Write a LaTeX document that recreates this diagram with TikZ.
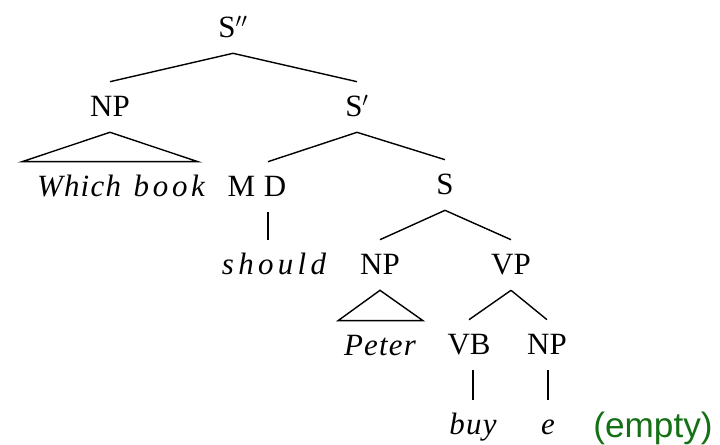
\documentclass[tikz,border=0pt]{standalone}
\usepackage{fontspec}
\setmainfont{Liberation Serif}
\newfontfamily\notefont{Liberation Sans}
\usetikzlibrary{calc}
\definecolor{notegreen}{RGB}{20,112,20}
\tikzset{
	cat/.style={font=\fontsize{22}{26}\selectfont,inner sep=0pt,text height=14pt,text depth=0pt,outer ysep=11pt},
	word/.style={cat,font=\fontsize{22}{26}\selectfont\itshape\addfontfeatures{LetterSpace=4}},
	branch/.style={line width=1pt}
}
\begin{document}
\begin{tikzpicture}[x=0.025cm,y=-0.025cm]
		\useasboundingbox(0,0)rectangle(720,445);
		% categories
		\node[cat](s2)at(233,28){S$''$};
		\node[cat](np1)at(110,107){NP};
		\node[cat](s1)at(357,107){S$'$};
		\node[cat](md)at(257,187){M\hspace{0.28em}D};
		\node[cat](s)at(445,185){S};
		\node[cat](np2)at(380,265){NP};
		\node[cat](vp)at(511,265){VP};
		\node[cat](vb)at(469,345){VB};
		\node[cat](np3)at(547,345){NP};
		
		% words
		\node[word](which)at(121,187){Which\hspace{9pt}\addfontfeatures{LetterSpace=12}book};
		\node[word,font=\fontsize{22}{26}\selectfont\itshape\addfontfeatures{LetterSpace=14}](should)at(274,265){should};
		\node[word](peter)at(380,346){Peter};
		\node[word](buy)at(473,425){buy};
		\node[word](e)at(548,425){e};
		\node[anchor=base,inner sep=0pt,text=notegreen,font=\notefont\fontsize{25}{30}\selectfont](empty)at(653,437){(empty)};
		
		\foreach \a/\b in{s2/np1,s2/s1,s1/s,s/np2,s/vp,vp/vb,vp/np3}
		\draw[branch](\a.south)--(\b.north);
		\coordinate(dtop)at($(md.north)+(11,0)$);
		\coordinate(dfoot)at($(md.south)+(11,0)$);
		\draw[branch](s1.south)--(dtop);
		\draw[branch](dfoot)--(dfoot|-should.north);
		\foreach \x in{buy,e}
		\draw[branch](\x.north)--(\x.north|-vb.south);
		
		% roofs over the noun phrases
		\draw[branch](np1.south)--($(which.north)+(-99,0)$)--($(which.north)+(77,0)$)--cycle;
		\draw[branch](np2.south)--($(peter.north)+(-42,0)$)--($(peter.north)+(43,0)$)--cycle;
	\end{tikzpicture}
\end{document}
